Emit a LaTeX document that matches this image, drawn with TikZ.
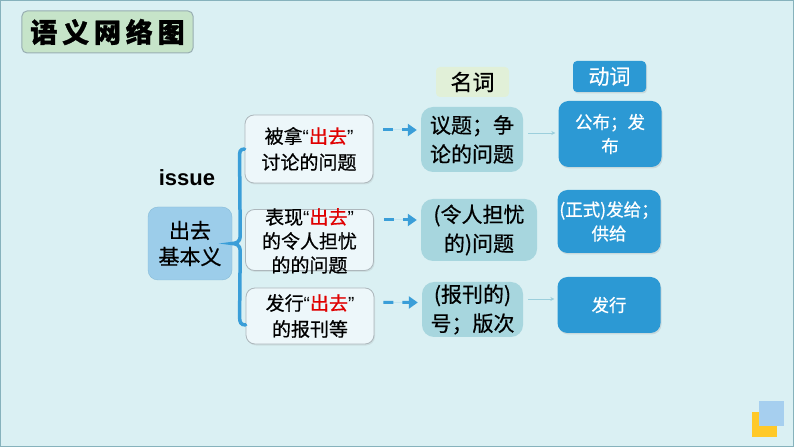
\documentclass[tikz,border=0pt]{standalone}
\usepackage{fontspec}
\setmainfont{Liberation Sans}
\newfontfamily\cjk[FakeBold=0.6]{Noto Sans CJK SC}
\newfontfamily\cjktitle[FakeBold=1.2, LetterSpace=18]{Noto Sans CJK SC}
\usetikzlibrary{
    arrows.meta,
    calc,
    shadows
}
\definecolor{bgcyan}{HTML}{DAF0F3}
\definecolor{frameline}{HTML}{86B2BC}
\definecolor{titlefill}{HTML}{C6E4C9}
\definecolor{titleline}{HTML}{98AEB2}
\definecolor{basefill}{HTML}{9CCDEA}
\definecolor{baseline}{HTML}{86BBD8}
\definecolor{sensefill}{HTML}{EDF7FA}
\definecolor{senseline}{HTML}{ADB7BC}
\definecolor{nounfill}{HTML}{A7D6DE}
\definecolor{nountag}{HTML}{E1F0D8}
\definecolor{verbfill}{HTML}{2C99D4}
\definecolor{bracecol}{HTML}{3A9ED8}
\definecolor{thincol}{HTML}{9CCFDC}
\definecolor{qured}{HTML}{E00000}
\definecolor{decoyellow}{HTML}{FFC928}
\definecolor{decoblue}{HTML}{A6CFEF}
\tikzset{
  titlebox/.style = {draw=titleline, fill=titlefill, rounded corners=5bp,
                     minimum width=171bp, minimum height=42bp, line width=1bp,
                     font=\cjktitle\bfseries\fontsize{27bp}{30bp}\selectfont},
  basebox/.style  = {draw=baseline, fill=basefill, rounded corners=10bp,
                     minimum width=84bp, minimum height=73bp, align=center,
                     font=\cjk\fontsize{21bp}{26bp}\selectfont},
  sensebox/.style = {draw=senseline, fill=sensefill, rounded corners=9bp,
                     minimum width=128bp, line width=0.8bp, align=center,
                     inner sep=1bp, drop shadow={shadow xshift=1bp, shadow yshift=-1.5bp, opacity=0.15},
                     font=\cjk\fontsize{19bp}{26bp}\selectfont},
  sensetext/.style= {align=center, inner sep=0pt,
                     font=\cjk\fontsize{19bp}{24bp}\selectfont},
  nounbox/.style  = {fill=nounfill, rounded corners=12bp, align=center,
                     inner sep=1bp, font=\cjk\fontsize{21bp}{29bp}\selectfont},
  verbbox/.style  = {fill=verbfill, rounded corners=10bp, align=center, text=white,
                     minimum width=103bp, inner sep=1bp,
                     drop shadow={shadow xshift=1bp, shadow yshift=-1.5bp, opacity=0.2},
                     font=\cjk\fontsize{17.5bp}{24bp}\selectfont},
  nountagbox/.style = {fill=nountag, rounded corners=4bp, minimum width=73bp,
                     minimum height=30bp, font=\cjk\fontsize{22bp}{24bp}\selectfont},
  verbtagbox/.style = {fill=verbfill, rounded corners=4bp, minimum width=73bp,
                     minimum height=31bp, text=white,
                     drop shadow={shadow xshift=1bp, shadow yshift=-1.5bp, opacity=0.2},
                     font=\cjk\fontsize{21bp}{24bp}\selectfont},
  dasharr/.style  = {-{Triangle[length=9bp,width=12bp]}, draw=bracecol, fill=bracecol,
                     line width=3bp, dash pattern=on 10bp off 9bp},
  thinarr/.style  = {-{Stealth[length=4bp,width=4bp]}, draw=thincol, line width=0.8bp},
  brace/.style    = {draw=bracecol, line width=3.5bp, line cap=round}
}
\newcommand{\chuqu}{{\rmfamily “}\textcolor{qured}{出去}{\rmfamily ”}}
\begin{document}
\begin{tikzpicture}[x=1bp, y=-1bp]
  \useasboundingbox (0,0) rectangle (794,447);
  \fill[bgcyan] (0,0) rectangle (794,447);
  \draw[frameline, line width=2bp] (0,0) rectangle (794,447);

  % title
  \node[titlebox] (title) at (107.5,32) {语义网络图};

  % base sense
  \node[font=\bfseries\fontsize{22bp}{24bp}\selectfont] (issue) at (187,178) {issue};
  \node[basebox] (base) at (190,243.5) {出去\\基本义};

  % senses of the base meaning
  \node[sensebox, minimum height=68bp] (b1) at (309,149) {被拿\chuqu\\讨论的问题};
  \node[sensebox, minimum height=61bp] (b2) at (309.5,240) {};
  \node[sensetext] (b2t) at (309.5,241) {表现\chuqu\\的令人担忧\\的的问题};
  \node[sensebox, minimum height=56bp] (b3) at (310,316) {发行\chuqu\\的报刊等};

  % nouns
  \node[nountagbox] (nountag) at (472.5,82) {名词};
  \node[nounbox, minimum width=102bp, minimum height=65bp] (n1) at (472,139.5) {议题；争\\论的问题};
  \node[nounbox, minimum width=116bp, minimum height=62bp] (n2) at (479,230) {(令人担忧\\的)问题};
  \node[nounbox, minimum width=101bp, minimum height=55bp] (n3) at (472.5,309.5) {(报刊的)\\号；版次};

  % verbs
  \node[verbtagbox] (verbtag) at (609.5,76.5) {动词};
  \node[verbbox, minimum height=66bp] (v1) at (610,134) {公布；发\\布};
  \node[verbbox, minimum height=63bp] (v2) at (609,221.5) {(正式)发给；\\供给};
  \node[verbbox, minimum height=56bp] (v3) at (609,305) {发行};

  % brace
  \draw[brace] (b1.west) .. controls +(-5,0) and +(0,-5) .. ++(-5,8)
    -- ($(base.east)+(8,-7)$) .. controls +(0,5) and +(4,0) .. (base.east)
    .. controls +(4,0) and +(0,-5) .. ($(base.east)+(8,7)$)
    -- ($(b3.west)+(-6,1)$) .. controls +(0,5) and +(-5,0) .. ($(b3.west)+(0,9)$);

  % arrows
  \draw[dasharr] ($(b1.east)+(10,-19)$) -- ($(n1.west)+(-4,-9.5)$);
  \draw[dasharr] ($(b2.east)+(10,-20)$) -- ($(n2.west)+(-4,-10)$);
  \draw[dasharr] ($(b3.east)+(9,-13.5)$) -- ($(n3.west)+(-4,-7)$);
  \draw[thinarr] ($(n1.east)+(5,-6.5)$) -- ($(v1.west)+(-3,-1)$);
  \draw[thinarr] ($(n3.east)+(5,-10.5)$) -- ($(v3.west)+(-3,-6)$);

  % corner marks
  \fill[decoyellow] (752,412) rectangle (777,437);
  \fill[decoblue] (759,401) rectangle (784,426);
\end{tikzpicture}
\end{document}
